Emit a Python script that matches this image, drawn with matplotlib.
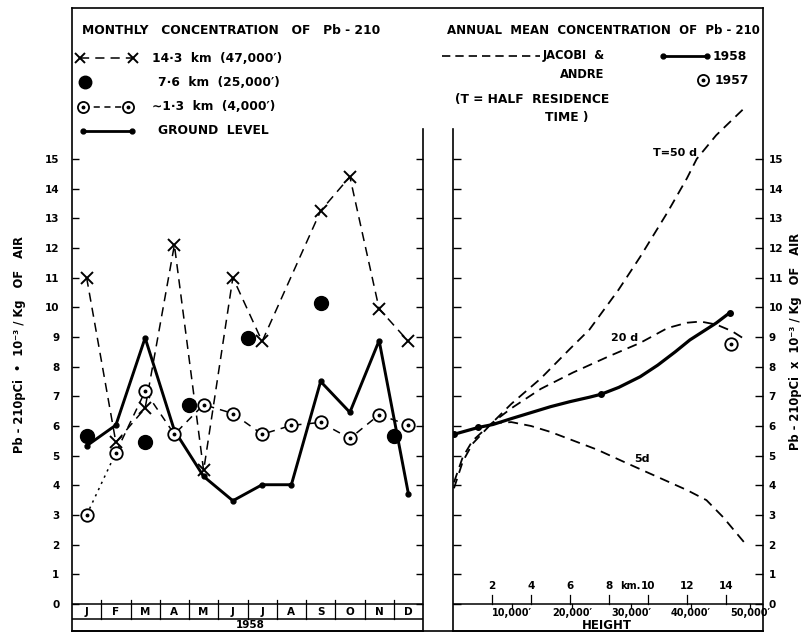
import matplotlib
matplotlib.use("Agg")
import matplotlib.pyplot as plt

# ---------------- data ----------------
months = ['J', 'F', 'M', 'A', 'M', 'J', 'J', 'A', 'S', 'O', 'N', 'D']
year_label = '1958'

# 14.3 km (47,000')
high_x = [0, 1, 2, 3, 4, 5, 6, 8, 9, 10, 11]
high_v = [11.0, 5.45, 6.6, 12.1, 4.5, 11.0, 8.85, 13.25, 14.4, 9.95, 8.85]
# 7.6 km (25,000')
mid_x = [0, 2, 3.5, 5.5, 8, 10.5]
mid_v = [5.65, 5.45, 6.7, 8.95, 10.15, 5.65]
# ~1.3 km (4,000')
low_x = list(range(12))
low_v = [3.0, 5.1, 7.17, 5.72, 6.72, 6.42, 5.72, 6.02, 6.12, 5.58, 6.38, 6.03]
# ground level
ground_x = list(range(12))
ground_v = [5.33, 6.03, 8.97, 5.85, 4.3, 3.48, 4.02, 4.02, 7.5, 6.46, 8.88, 3.72]

# annual mean vs height (km)
t50_km = [0.05, 0.5, 1.0, 2.0, 3.0, 4.5, 6.0, 7.0, 8.5, 9.6, 11.0, 12.0, 12.5, 13.5, 15.0]
t50_v = [3.9, 4.8, 5.4, 6.1, 6.75, 7.6, 8.6, 9.25, 10.6, 11.7, 13.2, 14.35, 15.0, 15.8, 16.75]
t20_km = [0.05, 0.5, 1.0, 2.0, 3.0, 4.5, 6.15, 8.0, 9.6, 11.0, 12.0, 12.7, 13.5, 14.3, 14.9]
t20_v = [4.1, 4.95, 5.5, 6.1, 6.6, 7.25, 7.8, 8.35, 8.8, 9.3, 9.48, 9.52, 9.42, 9.2, 8.95]
t5_km = [2.0, 3.0, 4.0, 5.0, 6.0, 7.4, 8.9, 10.5, 12.0, 13.0, 13.85, 14.97]
t5_v = [6.1, 6.13, 6.0, 5.8, 5.55, 5.2, 4.75, 4.28, 3.84, 3.5, 2.93, 2.05]
y1958_km = [0.05, 1.3, 2.05, 3.0, 4.0, 5.0, 6.0, 7.0, 7.6, 8.5, 9.6, 10.5, 11.4, 12.15, 13.5, 14.2]
y1958_v = [5.72, 5.95, 6.05, 6.25, 6.45, 6.65, 6.82, 6.97, 7.07, 7.3, 7.66, 8.05, 8.5, 8.9, 9.47, 9.82]
y1958_pts_km = [0.05, 1.3, 7.6, 14.2]
y1958_pts_v = [5.72, 5.95, 7.07, 9.82]
y1957_km = [14.25]
y1957_v = [8.76]

yticks = list(range(0, 16))
km_ticks = [2, 4, 6, 8, 10, 12, 14]
km_labels = ['2', '4', '6', '8', '10', '12', '14']
ft_ticks = [10000, 20000, 30000, 40000, 50000]
ft_labels = ["10,000′", "20,000′", "30,000′", "40,000′", "50,000′"]

# ---------------- figure ----------------
W, H = 810, 633
fig = plt.figure(figsize=(W / 100, H / 100), dpi=100)
plt.rcParams['font.family'] = ['DejaVu Sans']
FB = dict(fontweight='bold', color='black')

PXU = 29.67   # pixels per unit
Y0 = 604      # pixel row of value 0
def v_of(py):
    return (Y0 - py) / PXU
vb, vt = v_of(631), v_of(8)
vtop_plot = v_of(129)

ax1 = fig.add_axes([72 / W, 1 - 631 / H, (423 - 72) / W, (631 - 8) / H])
ax2 = fig.add_axes([453 / W, 1 - 631 / H, (763 - 453) / W, (631 - 8) / H])
for ax in (ax1, ax2):
    ax.set_ylim(vb, vt)
    ax.set_yticks(yticks)
    ax.spines['top'].set_visible(False)
    for s in ax.spines.values():
        s.set_linewidth(1.2)
    ax.set_xticks([])

ax1.set_xlim(-0.5, 11.5)
ax2.set_xlim(0, 15.9)
ax1.spines['right'].set_bounds(vb, vtop_plot)
ax2.spines['left'].set_bounds(vb, vtop_plot)

ax1.tick_params(axis='y', direction='in', length=5, width=1, left=True, right=True,
                labelleft=True, labelright=False, pad=9, labelsize=7.5)
ax2.tick_params(axis='y', direction='in', length=6, width=1, left=True, right=True,
                labelleft=False, labelright=True, pad=4, labelsize=7.5)
for lab in ax1.get_yticklabels() + ax2.get_yticklabels():
    lab.set_fontweight('bold')

# ---- month band ----
ax1.axhline(0, color='black', lw=1.1)
ax1.axhline(-0.52, color='black', lw=1.1)
for i in range(11):
    ax1.plot([i + 0.5, i + 0.5], [-0.52, 0.12], color='black', lw=0.9)
for i, m in enumerate(months):
    ax1.text(i, -0.26, m, ha='center', va='center', fontsize=7.5, **FB)
ax1.text(5.6, -0.71, year_label, ha='center', va='center', fontsize=7.5, **FB)

# ---- monthly series ----
ax1.plot(high_x, high_v, color='black', lw=1.1, ls=(0, (6, 4)), marker='x',
         ms=8, mew=1.4, zorder=3)
ax1.plot(mid_x, mid_v, ls='none', marker='o', ms=10, color='black', zorder=4)
ax1.plot(low_x[:2], low_v[:2], color='black', lw=1.1, ls=(0, (1.5, 3)), zorder=2)
ax1.plot(low_x[1:], low_v[1:], color='black', lw=1.1, ls=(0, (5, 4)), zorder=2)
ax1.plot(low_x, low_v, ls='none', marker='o', ms=9, mfc='white', mec='black',
         mew=1.3, zorder=5)
ax1.plot(low_x, low_v, ls='none', marker='o', ms=1.8, color='black', zorder=6)
ax1.plot(ground_x, ground_v, color='black', lw=2.1, marker='o', ms=3.5, zorder=4)

# ---- annual mean vs height ----
dash = (0, (5.5, 3.5))
ax2.plot(t50_km, t50_v, color='black', lw=1.3, ls=dash, clip_on=False)
ax2.plot(t20_km, t20_v, color='black', lw=1.3, ls=dash)
ax2.plot(t5_km, t5_v, color='black', lw=1.3, ls=dash)
ax2.plot(y1958_km, y1958_v, color='black', lw=2.3, solid_capstyle='round',
         solid_joinstyle='round')
ax2.plot(y1958_pts_km, y1958_pts_v, ls='none', marker='o', ms=4, color='black')
ax2.plot(y1957_km, y1957_v, ls='none', marker='o', ms=9, mfc='white', mec='black', mew=1.3)
ax2.plot(y1957_km, y1957_v, ls='none', marker='o', ms=1.8, color='black')

ax2.text(12.5, 15.2, 'T=50 d', ha='right', va='center', fontsize=8, **FB)
ax2.text(8.8, 8.95, '20 d', ha='center', va='center', fontsize=8, **FB)
ax2.text(9.7, 4.9, '5d', ha='center', va='center', fontsize=8, **FB)

# height axis: km ticks above line, feet ticks below
ax2.axhline(0, color='black', lw=1.1)
for k, lab in zip(km_ticks, km_labels):
    ax2.plot([k, k], [0, 0.3], color='black', lw=0.9)
    ax2.text(k, 0.6, lab, ha='center', va='center', fontsize=7.5, **FB)
ax2.text(8.55, 0.6, 'km.', ha='left', va='center', fontsize=7, **FB)
for f, lab in zip(ft_ticks, ft_labels):
    k = f * 0.0003048
    ax2.plot([k, k], [0, -0.15], color='black', lw=0.9)
    ax2.text(k, -0.3, lab, ha='center', va='center', fontsize=7, **FB)
ax2.text(7.9, -0.74, 'HEIGHT', ha='center', va='center', fontsize=8.5, **FB)

# ---------------- overlay in pixel coordinates ----------------
ov = fig.add_axes([0, 0, 1, 1], zorder=10)
ov.set_xlim(0, W)
ov.set_ylim(H, 0)
ov.axis('off')
ov.patch.set_alpha(0)

ov.plot([72, 763], [8, 8], color='black', lw=1.2)
ov.plot([72, 763], [631, 631], color='black', lw=1.2)

FS = 8.8
# left header
ov.text(82, 31, 'MONTHLY   CONCENTRATION   OF   Pb - 210', ha='left', va='center', fontsize=FS, **FB)
ov.plot([80, 133], [58, 58], color='black', lw=1.1, ls=(0, (6, 4)))
ov.plot([80, 133], [58, 58], ls='none', marker='x', ms=7, mew=1.4, color='black')
ov.text(152, 58, '14·3  km  (47,000′)', ha='left', va='center', fontsize=FS, **FB)
ov.plot([85], [82], ls='none', marker='o', ms=9, color='black')
ov.text(158, 82, '7·6  km  (25,000′)', ha='left', va='center', fontsize=FS, **FB)
ov.plot([83, 128], [107, 107], color='black', lw=1.1, ls=(0, (4, 3)))
ov.plot([83, 128], [107, 107], ls='none', marker='o', ms=8, mfc='white', mec='black', mew=1.3)
ov.plot([83, 128], [107, 107], ls='none', marker='o', ms=1.8, color='black')
ov.text(152, 107, '∼1·3  km  (4,000′)', ha='left', va='center', fontsize=FS, **FB)
ov.plot([83, 132], [131, 131], color='black', lw=2.0, marker='o', ms=3.5)
ov.text(158, 131, 'GROUND  LEVEL', ha='left', va='center', fontsize=FS, **FB)

# right header
ov.text(760, 31, 'ANNUAL  MEAN  CONCENTRATION  OF  Pb - 210', ha='right', va='center',
        fontsize=8.5, **FB)
ov.plot([442, 540], [56, 56], color='black', lw=1.2, ls=(0, (5, 3)))
ov.text(543, 56, 'JACOBI  &', ha='left', va='center', fontsize=8.3, **FB)
ov.text(560, 75, 'ANDRE', ha='left', va='center', fontsize=8.3, **FB)
ov.plot([663, 707], [56, 56], color='black', lw=2.0, marker='o', ms=3.5)
ov.text(713, 56, '1958', ha='left', va='center', fontsize=FS, **FB)
ov.plot([703], [80], ls='none', marker='o', ms=8, mfc='white', mec='black', mew=1.3)
ov.plot([703], [80], ls='none', marker='o', ms=1.8, color='black')
ov.text(715, 80, '1957', ha='left', va='center', fontsize=FS, **FB)
ov.text(455, 99, '(T = HALF  RESIDENCE', ha='left', va='center', fontsize=FS, **FB)
ov.text(545, 118, 'TIME )', ha='left', va='center', fontsize=FS, **FB)

# y-axis titles
ov.text(20, 345, 'Pb - 210pCi  •  10⁻³ / Kg   OF   AIR', rotation=90, ha='center',
        va='center', fontsize=8.3, **FB)
ov.text(796, 342, 'Pb - 210pCi  x  10⁻³ / Kg   OF   AIR', rotation=90, ha='center',
        va='center', fontsize=8.3, **FB)

fig.savefig('out.png', dpi=100)
